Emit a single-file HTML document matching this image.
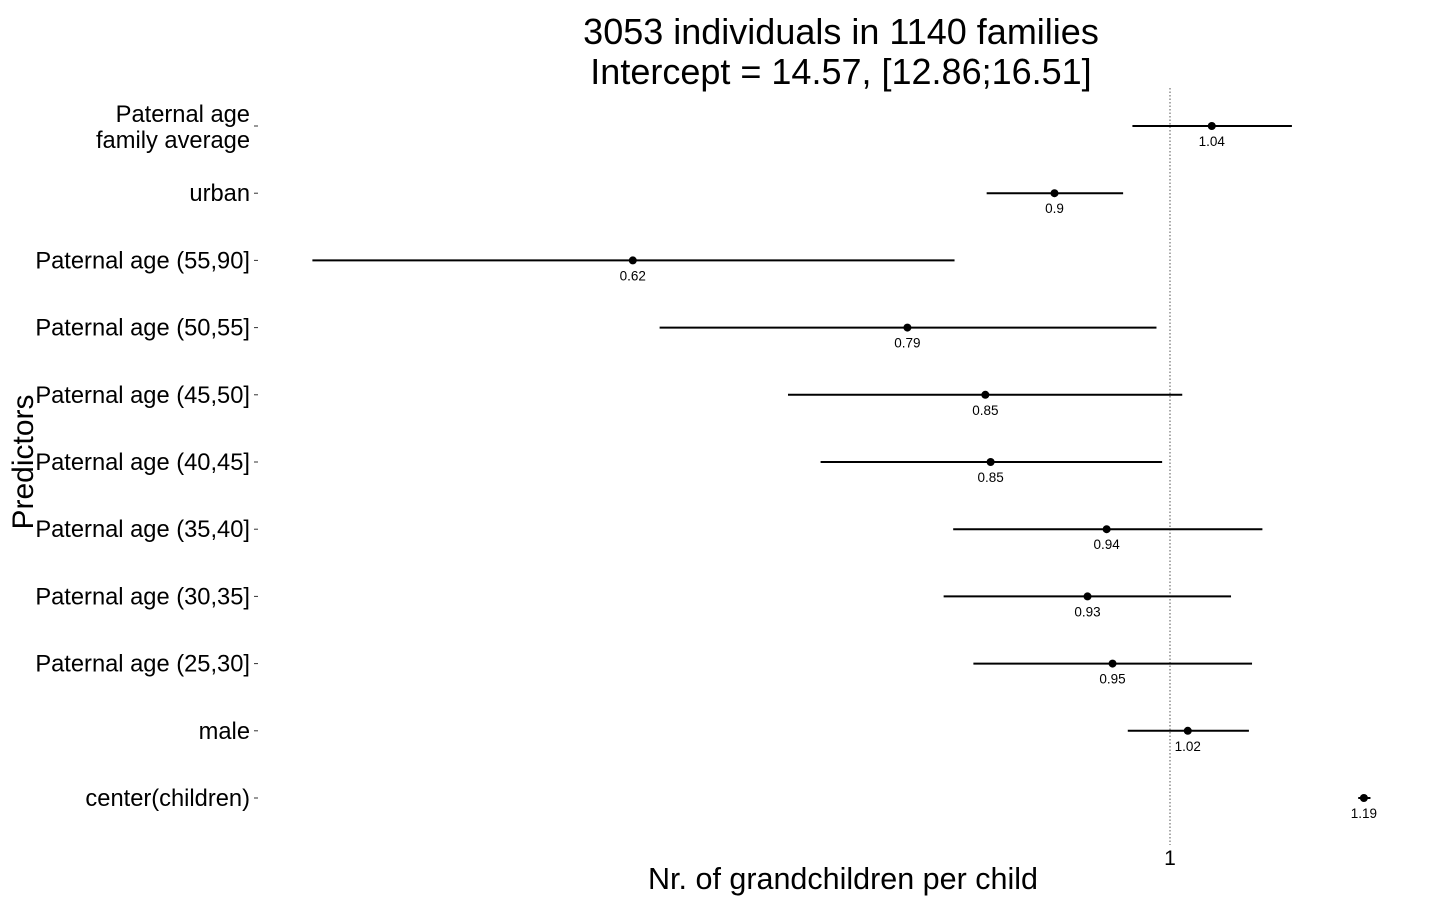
<!DOCTYPE html>
<html><head><meta charset="utf-8"><style>
body{margin:0;background:#fff;}
svg text{font-family:"Liberation Sans",sans-serif;}
</style></head><body>
<svg id="chart" width="1440" height="900" xmlns="http://www.w3.org/2000/svg">
<text x="841" y="44" font-size="36" text-anchor="middle">3053 individuals in 1140 families</text>
<text x="841" y="84" font-size="36" text-anchor="middle">Intercept = 14.57, [12.86;16.51]</text>
<text transform="translate(33,462) rotate(-90)" font-size="30" text-anchor="middle">Predictors</text>
<text x="843" y="889" font-size="30.5" text-anchor="middle">Nr. of grandchildren per child</text>
<g id="plot"></g>
</svg>
<script>
const categories=["Paternal age|family average","urban","Paternal age (55,90]","Paternal age (50,55]","Paternal age (45,50]","Paternal age (40,45]","Paternal age (35,40]","Paternal age (30,35]","Paternal age (25,30]","male","center(children)"];
const estimates=[1.038,0.902,0.619,0.791,0.848,0.852,0.945,0.929,0.950,1.016,1.189];
const lower=[0.967,0.849,0.465,0.634,0.711,0.732,0.824,0.817,0.839,0.963,1.183];
const upper=[1.115,0.959,0.825,0.988,1.011,0.993,1.086,1.056,1.076,1.073,1.196];
const valueLabels=["1.04","0.9","0.62","0.79","0.85","0.85","0.94","0.93","0.95","1.02","1.19"];
const xTicks=[1];
const xTickLabels=["1"];
const NS="http://www.w3.org/2000/svg";
const g=document.getElementById('plot');
function x(v){return 1170+Math.log(v)*1120;}
function y(i){return 126+i*67.2;}
function mk(tag,attrs){const e=document.createElementNS(NS,tag);for(const k in attrs)e.setAttribute(k,attrs[k]);g.appendChild(e);return e;}
xTicks.forEach((t,i)=>{
  const l=mk('line',{x1:x(t),x2:x(t),y1:88,y2:845,stroke:'#555','stroke-width':1,'stroke-dasharray':'1.5,2'});
  
  
  const tk=mk('text',{x:x(t),y:865,'font-size':21,'text-anchor':'middle'});
  tk.textContent=xTickLabels[i];
  
  
});
categories.forEach((c,i)=>{
  const yy=y(i);
  const parts=c.split('|');
  const lab=mk('text',{x:250,'font-size':23.7,'text-anchor':'end'});
  
  
  if(parts.length===2){
    const t1=document.createElementNS(NS,'tspan');t1.setAttribute('x',250);t1.setAttribute('y',yy-4);t1.textContent=parts[0];lab.appendChild(t1);
    const t2=document.createElementNS(NS,'tspan');t2.setAttribute('x',250);t2.setAttribute('y',yy+22);t2.textContent=parts[1];lab.appendChild(t2);
  } else {lab.setAttribute('y',yy+8);lab.textContent=c;}
  const tick=mk('line',{x1:254,x2:258,y1:yy,y2:yy,stroke:'#333','stroke-width':1});
  
  
  const ci=mk('line',{x1:x(lower[i]),x2:x(upper[i]),y1:yy,y2:yy,stroke:'#000','stroke-width':2});
  
  
  const pt=mk('circle',{cx:x(estimates[i]),cy:yy,r:4,fill:'#000'});
  
  
  const vl=mk('text',{x:x(estimates[i]),y:yy+20,'font-size':13.5,'text-anchor':'middle'});
  vl.textContent=valueLabels[i];
  
  
});
</script>
</body></html>
